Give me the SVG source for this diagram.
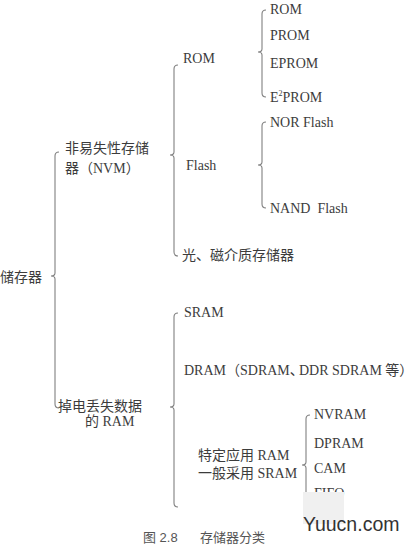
<svg xmlns="http://www.w3.org/2000/svg" width="414" height="549" viewBox="0 0 414 549">
<style>
.t{font-family:"Liberation Serif","Noto Sans CJK SC",serif;font-size:14px;fill:#3c3c3c}
.b{fill:none;stroke:#808080;stroke-width:1.1}
.c{font-family:"Liberation Sans","Noto Sans CJK SC",sans-serif;font-size:13px;fill:#555}
</style>
<rect width="414" height="549" fill="#ffffff"/>
<g id="connectors">
<path class="b" d="M59 152 Q55 152 55 156 L55 273 Q55 276 51 276 Q55 276 55 279 L55 404 Q55 408 59 408"/>
<path class="b" d="M178 65 Q174 65 174 69 L174 152 Q174 155 170 155 Q174 155 174 158 L174 252 Q174 256 178 256"/>
<path class="b" d="M178 313 Q174 313 174 317 L174 404 Q174 407 170 407 Q174 407 174 410 L174 503 Q174 507 178 507"/>
<path class="b" d="M266 10 Q262 10 262 14 L262 49 Q262 52 258 52 Q262 52 262 55 L262 93 Q262 97 266 97"/>
<path class="b" d="M266 122 Q262 122 262 126 L262 162 Q262 165 258 165 Q262 165 262 168 L262 204 Q262 208 266 208"/>
<path class="b" d="M310 415 Q306 415 306 419 L306 462 Q306 465 302 465 Q306 465 306 468 L306 500"/>
</g>
<g id="root"><text class="t" x="0" y="282">储存器</text></g>
<g id="nvm"><text class="t" x="65" y="153">非易失性存储</text><text class="t" x="65" y="173">器（NVM）</text></g>
<g id="ram"><text class="t" x="58" y="411">掉电丢失数据</text><text class="t" x="85" y="426">的 RAM</text></g>
<g id="rom"><text class="t" x="183" y="63">ROM</text></g>
<g id="flash"><text class="t" x="186" y="170">Flash</text></g>
<g id="optical"><text class="t" x="182" y="260">光、磁介质存储器</text></g>
<g id="rom1"><text class="t" x="270" y="14">ROM</text></g>
<g id="prom"><text class="t" x="270" y="40">PROM</text></g>
<g id="eprom"><text class="t" x="270" y="68">EPROM</text></g>
<g id="e2prom"><text class="t" x="270" y="102">E<tspan font-size="8" dy="-6">2</tspan><tspan dy="6">PROM</tspan></text></g>
<g id="nor"><text class="t" x="270" y="127">NOR Flash</text></g>
<g id="nand"><text class="t" x="270" y="213" xml:space="preserve">NAND  Flash</text></g>
<g id="sram"><text class="t" x="184" y="317">SRAM</text></g>
<g id="dram"><text class="t" x="184" y="375" font-size="13.5">DRAM（SDRAM、</text><text class="t" x="299" y="375" font-size="13.5">DDR SDRAM 等）</text></g>
<g id="special"><text class="t" x="198" y="460">特定应用 RAM</text><text class="t" x="198" y="478">一般采用 SRAM</text></g>
<g id="nvram"><text class="t" x="314" y="419">NVRAM</text></g>
<g id="dpram"><text class="t" x="314" y="448">DPRAM</text></g>
<g id="cam"><text class="t" x="314" y="473">CAM</text></g>
<g id="fifo"><text class="t" x="314" y="498">FIFO</text></g>
<rect x="303" y="492" width="41" height="32" fill="#f0f0f0"/>
<text x="303" y="531" font-family="Liberation Sans,sans-serif" font-size="19.5" fill="#333">Yuucn.com</text>
<g id="caption"><text class="c" x="143" y="542">图 2.8</text><text class="c" x="200" y="542">存储器分类</text></g>
</svg>
